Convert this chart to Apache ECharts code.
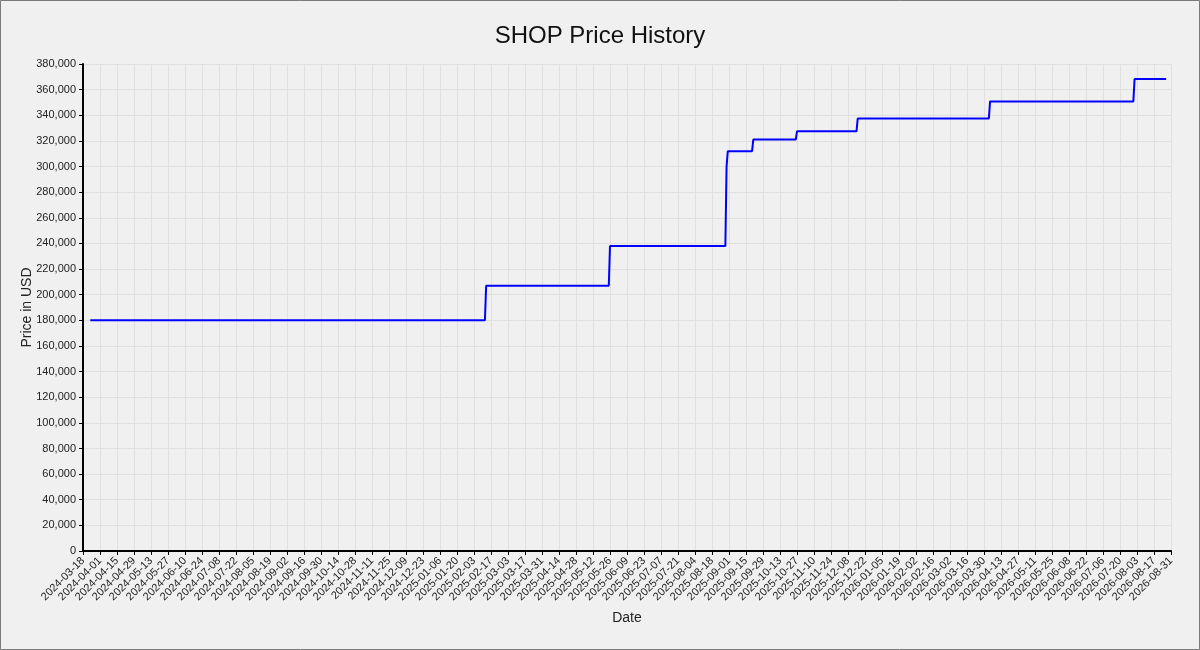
<!DOCTYPE html>
<html>
<head>
<meta charset="utf-8">
<script src="https://cdn.jsdelivr.net/npm/echarts@6/dist/echarts.min.js"></script>
<style>
  html, body { margin: 0; padding: 0; background: #f0f0f0; }
  #chart { width: 1200px; height: 650px; }
</style>
</head>
<body>
<div id="chart"></div>
<script>
// corner points of the step line (date, price)
const priceDates = [
  '2024-03-24', '2025-02-12', '2025-02-13', '2025-05-25', '2025-05-26',
  '2025-08-29', '2025-08-30', '2025-08-31', '2025-09-20', '2025-09-21',
  '2025-10-26', '2025-10-27', '2025-12-15', '2025-12-16', '2026-04-03',
  '2026-04-04', '2026-07-31', '2026-08-01', '2026-08-27'
];
const priceValues = [
  180000, 180000, 207000, 207000, 238000,
  238000, 300000, 312000, 312000, 321000,
  321000, 327500, 327500, 337400, 337400,
  350800, 350800, 368300, 368300
];

// axis range, ticks every 14 days
const axisStart = '2024-03-18';
const axisEnd = '2026-08-31';
const tickDays = 14;

const DAY = 86400000;
const t0 = Date.parse(axisStart + 'T00:00:00Z');
const toDay = d => Math.round((Date.parse(d + 'T00:00:00Z') - t0) / DAY);
const toDate = n => new Date(t0 + n * DAY).toISOString().slice(0, 10);

const seriesData = priceDates.map((d, i) => [toDay(d), priceValues[i]]);

const chart = echarts.init(document.getElementById('chart'));
chart.setOption({
  backgroundColor: '#f0f0f0',
  animation: false,
  textStyle: { fontFamily: 'Liberation Sans, Arial, sans-serif' },
  graphic: [{
    type: 'rect',
    shape: { x: 0.5, y: 0.5, width: 1199, height: 649 },
    style: { fill: null, stroke: '#7a7a7a', lineWidth: 1 },
    silent: true
  }],
  title: {
    text: 'SHOP Price History',
    left: 'center',
    top: 19,
    textStyle: { fontSize: 24, fontWeight: 'normal', color: '#111', fontFamily: 'Liberation Sans, Arial, sans-serif' }
  },
  grid: { left: 83, right: 29, top: 64, bottom: 99, containLabel: false },
  xAxis: {
    type: 'value',
    min: 0,
    max: toDay(axisEnd),
    interval: tickDays,
    name: 'Date',
    nameLocation: 'middle',
    nameGap: 60,
    nameMoveOverlap: false,
    nameTextStyle: { fontSize: 14, color: '#222' },
    axisLine: { lineStyle: { color: '#000', width: 2 } },
    axisTick: { length: 4, lineStyle: { color: '#000', width: 1 } },
    axisLabel: {
      rotate: 45,
      fontSize: 11,
      color: '#222',
      margin: 8,
      formatter: v => toDate(v)
    },
    splitLine: { show: true, lineStyle: { color: '#e0e0e0', width: 1 } }
  },
  yAxis: {
    type: 'value',
    min: 0,
    max: 380000,
    interval: 20000,
    name: 'Price in USD',
    nameLocation: 'middle',
    nameGap: 49,
    nameMoveOverlap: false,
    nameTextStyle: { fontSize: 14, color: '#222' },
    axisLine: { show: true, lineStyle: { color: '#000', width: 2 } },
    axisTick: { show: true, length: 4, lineStyle: { color: '#000', width: 1 } },
    axisLabel: {
      fontSize: 11,
      color: '#222',
      margin: 7,
      formatter: v => v.toLocaleString('en-US')
    },
    splitLine: { show: true, lineStyle: { color: '#e0e0e0', width: 1 } }
  },
  series: [{
    name: 'SHOP',
    type: 'line',
    data: seriesData,
    showSymbol: false,
    lineStyle: { color: '#0000ff', width: 2 },
    itemStyle: { color: '#0000ff' }
  }]
});
</script>
</body>
</html>
